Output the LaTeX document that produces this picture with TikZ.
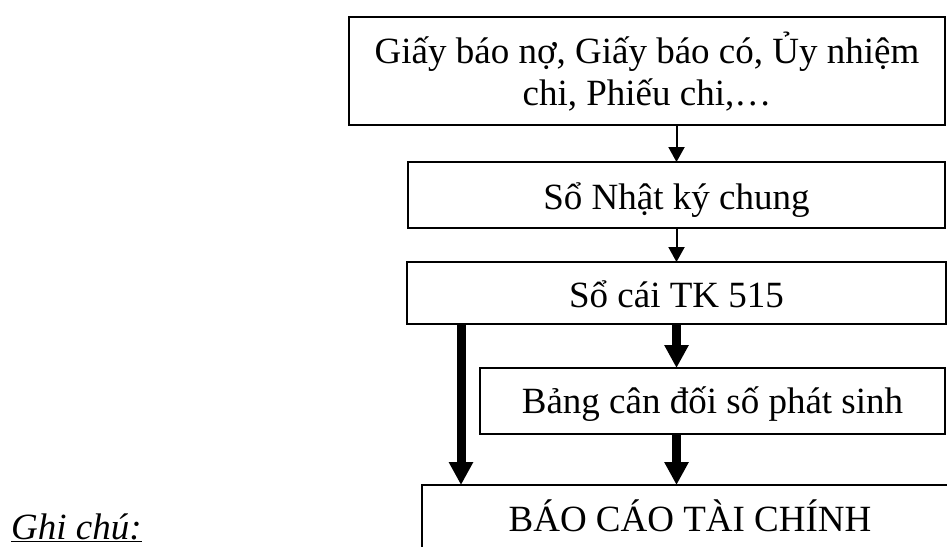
\documentclass[tikz,border=0pt]{standalone}
\usepackage{fontspec}
\setmainfont{Liberation Serif}
\usetikzlibrary{arrows.meta,calc}

\tikzset{
  box/.style={draw, line width=1.8pt, inner sep=0pt, outer sep=0pt,
    font=\fontsize{37}{42}\selectfont, text height=28pt, text depth=0pt},
  thinarrow/.style={line width=2pt, -{Triangle[length=15pt,width=16pt]}},
  thickarrow/.style={line width=9pt, -{Triangle[length=23pt,width=23pt]}},
}

\begin{document}
\begin{tikzpicture}[x=1pt,y=-1pt]
  \clip (0,0) rectangle (947,546);
  \fill[white] (0,0) rectangle (947,546);

  % source documents (two lines; the box baseline is the last line)
  \node[box, minimum width=596pt, minimum height=108pt, align=center,
        text height=68pt, text depth=0pt] (docs) at (647,71)
    {Giấy báo nợ, Giấy báo có, Ủy nhiệm\\chi, Phiếu chi,…};

  % journal and ledger
  \node[box, minimum width=537pt, minimum height=66pt] (journal) at (676.5,195)
    {Sổ Nhật ký chung};
  \node[box, minimum width=539pt, minimum height=62pt] (ledger) at (676.5,293)
    {Sổ cái TK 515};

  % trial balance
  \node[box, minimum width=465pt, minimum height=66pt, text height=24pt] (trial) at (712.5,401)
    {Bảng cân đối số phát sinh};

  % financial statements
  \node[box, minimum width=536pt, minimum height=64pt] (report) at (690,517)
    {BÁO CÁO TÀI CHÍNH};

  % note label
  \node[anchor=base west, inner sep=0pt, font=\fontsize{37}{42}\selectfont] (note) at (11,539)
    {\underline{\textit{Ghi chú:}}};

  % connectors
  \draw[thinarrow] (journal.north |- docs.south) -- (journal.north);
  \draw[thinarrow] (journal.south) -- (ledger.north);
  \draw[thickarrow] (ledger.south) -- (ledger.south |- trial.north);
  \draw[thickarrow] (ledger.south |- trial.south) -- (ledger.south |- report.north);
  \coordinate (ledgerleft) at ($(ledger.south west)+(54,0)$);
  \draw[thickarrow] (ledgerleft) -- (ledgerleft |- report.north);
\end{tikzpicture}
\end{document}
